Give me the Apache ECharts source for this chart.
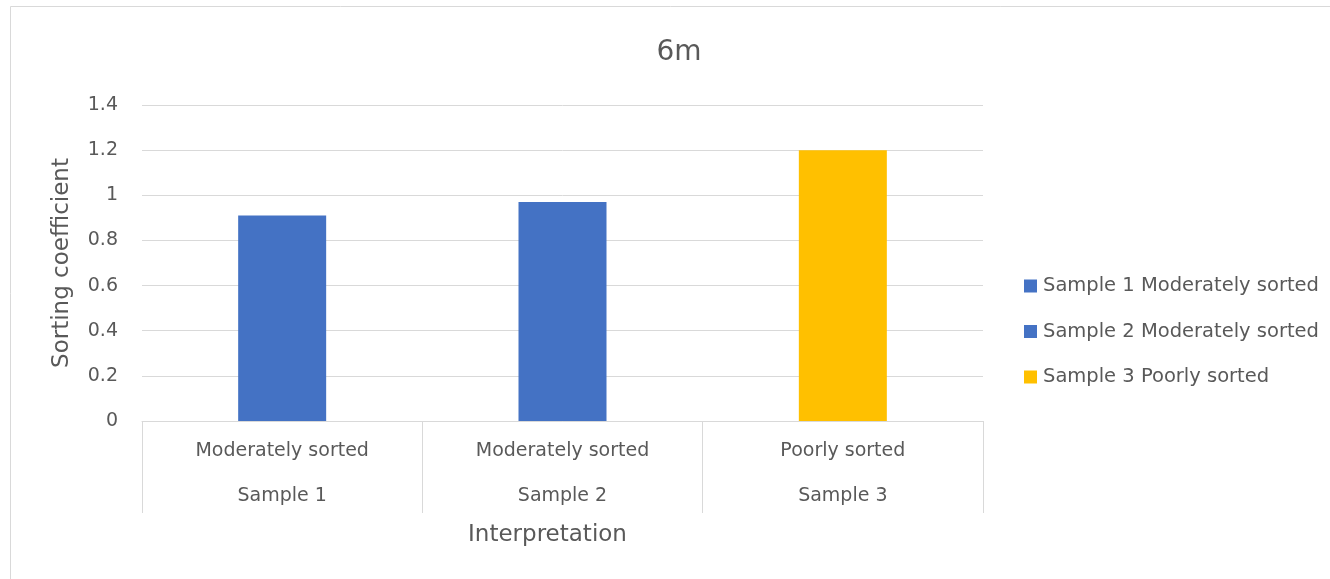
<!DOCTYPE html>
<html>
<head>
<meta charset="utf-8">
<script src="https://cdn.jsdelivr.net/npm/echarts@6/dist/echarts.min.js"></script>
<style>
html,body{margin:0;padding:0;background:#fff;}
#chart{width:1330px;height:579px;}
</style>
</head>
<body>
<div id="chart"></div>
<script>
const interpretations = ['Moderately sorted', 'Moderately sorted', 'Poorly sorted'];
const samples = ['Sample 1', 'Sample 2', 'Sample 3'];
const seriesNames = ['Sample 1 Moderately sorted', 'Sample 2 Moderately sorted', 'Sample 3 Poorly sorted'];
const values = [0.91, 0.97, 1.2];
const colors = ['#4472C4', '#4472C4', '#FFC000'];
const yTicks = [0, 0.2, 0.4, 0.6, 0.8, 1, 1.2, 1.4];

const FONT = 'DejaVu Sans';
const TXT = '#595959';
const categories = samples.map((s, i) => i);

const series = values.map((v, i) => ({
  name: seriesNames[i],
  type: 'bar',
  stack: 'all',
  barWidth: 88,
  itemStyle: { color: colors[i] },
  data: values.map((_, j) => (j === i ? v : '-'))
}));

const chart = echarts.init(document.getElementById('chart'), null, { renderer: 'canvas' });
chart.setOption({
  animation: false,
  textStyle: { fontFamily: FONT },
  graphic: [{
    type: 'rect',
    shape: { x: 10.5, y: 6.5, width: 1340, height: 600 },
    style: { fill: 'none', stroke: '#d9d9d9', lineWidth: 1 },
    silent: true
  }],
  title: {
    text: '6m',
    left: 674,
    top: 34,
    textAlign: 'center',
    textStyle: { fontFamily: FONT, fontSize: 28, fontWeight: 'normal', color: TXT }
  },
  legend: {
    orient: 'vertical',
    left: 1019,
    top: 271,
    itemWidth: 13,
    itemHeight: 13,
    itemGap: 25.5,
    icon: 'rect',
    textStyle: { fontFamily: FONT, fontSize: 19.5, color: TXT, padding: [0, 0, 0, 1] },
    data: seriesNames
  },
  grid: { left: 142, right: 347, top: 105, bottom: 158, containLabel: false },
  xAxis: {
    type: 'category',
    data: categories,
    boundaryGap: true,
    axisLine: { show: true, lineStyle: { color: '#d9d9d9', width: 1 } },
    axisTick: { show: true, interval: 0, length: 92, lineStyle: { color: '#d9d9d9', width: 1 } },
    axisLabel: {
      interval: 0,
      margin: 8,
      formatter: (v, i) => '{a|' + interpretations[i] + '}\n{b|' + samples[i] + '}',
      rich: {
        a: { fontFamily: FONT, fontSize: 19, color: TXT, lineHeight: 45 },
        b: { fontFamily: FONT, fontSize: 19, color: TXT, lineHeight: 45 }
      }
    },
    name: 'Interpretation',
    nameLocation: 'middle',
    nameGap: 103,
    nameTextStyle: { fontFamily: FONT, fontSize: 23, color: TXT, padding: [0, 30, 0, 0] }
  },
  yAxis: {
    type: 'value',
    min: yTicks[0],
    max: yTicks[yTicks.length - 1],
    interval: 0.2,
    axisLine: { show: false },
    axisTick: { show: false },
    splitLine: { lineStyle: { color: '#d9d9d9', width: 1 } },
    axisLabel: {
      margin: 24,
      fontFamily: FONT,
      fontSize: 19,
      color: TXT,
      formatter: v => String(Math.round(v * 10) / 10)
    },
    name: 'Sorting coefficient',
    nameLocation: 'middle',
    nameGap: 68,
    nameTextStyle: { fontFamily: FONT, fontSize: 23, color: TXT }
  },
  series: series
});
</script>
</body>
</html>
